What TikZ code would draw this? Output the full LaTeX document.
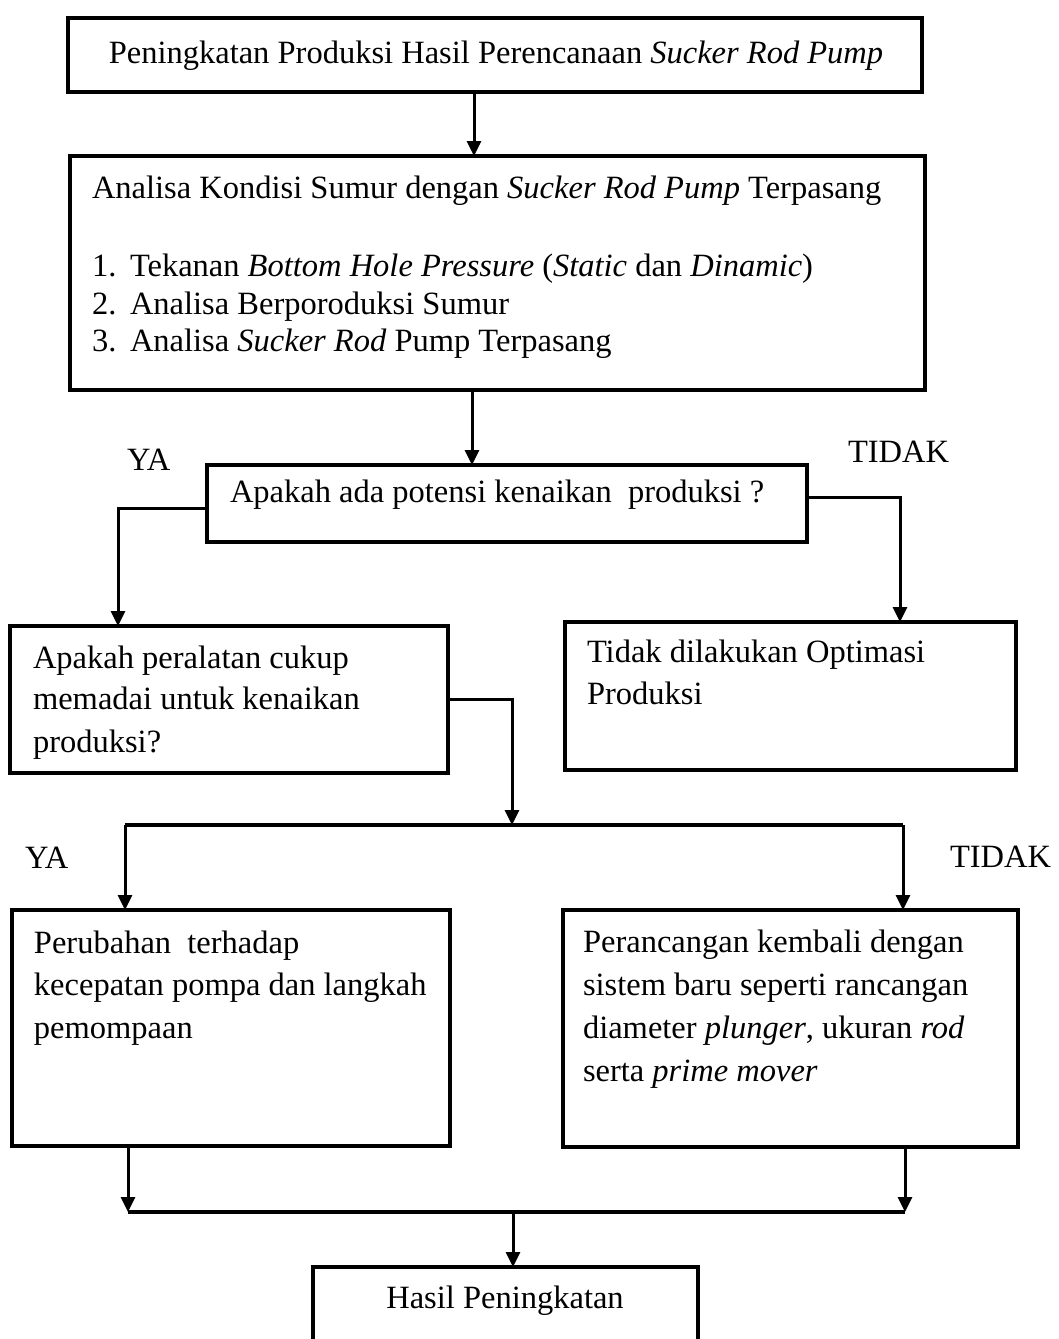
\documentclass[tikz,border=0pt]{standalone}
\usepackage{fontspec}
\setmainfont{Liberation Serif}
\usetikzlibrary{arrows.meta}
\begin{document}
\begin{tikzpicture}[x=1pt,y=-1pt,
  box/.style={draw, line width=3.2pt, inner sep=0pt, outer sep=0pt, fill=none},
  txt/.style={inner sep=0pt, outer sep=0pt, anchor=base west, font=\fontsize{32.5}{40}\selectfont},
  arr/.style={draw, line width=3pt, -{Triangle[length=15pt,width=14pt]}},
  bar/.style={draw, line width=4pt, line cap=butt}]
\useasboundingbox (0,0) rectangle (1058,1339);
\clip (0,0) rectangle (1058,1339);
% boxes
\node[box, minimum width=854pt, minimum height=74pt] (b1) at (495,55) {};
\node[box, minimum width=855pt, minimum height=234pt] (b2) at (497.5,273) {};
\node[box, minimum width=600pt, minimum height=77pt] (b3) at (507,503.5) {};
\node[box, minimum width=438pt, minimum height=147pt] (b4) at (229,699.5) {};
\node[box, minimum width=451pt, minimum height=148pt] (b5) at (790.5,696) {};
\node[box, minimum width=438pt, minimum height=236pt] (b6) at (231,1028) {};
\node[box, minimum width=455pt, minimum height=237pt] (b7) at (790.5,1028.5) {};
\node[box, minimum width=385pt, minimum height=93pt] (b8) at (505.5,1313.5) {};
% texts
\node[txt, anchor=base] (t1) at (496,63) {Peningkatan Produksi Hasil Perencanaan \textit{Sucker Rod Pump}};
\node[txt] (t2) at (92,198) {Analisa Kondisi Sumur dengan \textit{Sucker Rod Pump} Terpasang};
\node[txt] (n1) at (92,276) {1.};
\node[txt] (l1) at (130,276) {Tekanan \textit{Bottom Hole Pressure} (\textit{Static} dan \textit{Dinamic})};
\node[txt] (n2) at (92,314) {2.};
\node[txt] (l2) at (130,314) {Analisa Berporoduksi Sumur};
\node[txt] (n3) at (92,351) {3.};
\node[txt] (l3) at (130,351) {Analisa \textit{Sucker Rod} Pump Terpasang};
\node[txt] (t3) at (230,502) {Apakah ada potensi kenaikan\ \ produksi ?};
\node[txt] (ya1) at (127,470) {YA};
\node[txt] (td1) at (848,462) {TIDAK};
\node[txt] (t4a) at (33,668) {Apakah peralatan cukup};
\node[txt] (t4b) at (33,709) {memadai untuk kenaikan};
\node[txt] (t4c) at (33,752) {produksi?};
\node[txt] (t5a) at (587,662) {Tidak dilakukan Optimasi};
\node[txt] (t5b) at (587,704) {Produksi};
\node[txt] (ya2) at (25,868) {YA};
\node[txt] (td2) at (950,867) {TIDAK};
\node[txt] (t6a) at (34,953) {Perubahan\ \ terhadap};
\node[txt] (t6b) at (34,995) {kecepatan pompa dan langkah};
\node[txt] (t6c) at (34,1038) {pemompaan};
\node[txt] (t7a) at (583,952) {Perancangan kembali dengan};
\node[txt] (t7b) at (583,995) {sistem baru seperti rancangan};
\node[txt] (t7c) at (583,1038) {diameter \textit{plunger}, ukuran \textit{rod}};
\node[txt] (t7d) at (583,1081) {serta \textit{prime mover}};
\node[txt, anchor=base] (t8) at (505,1308) {Hasil Peningkatan};
% connectors
\coordinate (x1) at (474,0);
\coordinate (x2) at (472,0);
\coordinate (x3) at (118,0);
\coordinate (x4) at (900,0);
\coordinate (x5) at (512,0);
\coordinate (x6) at (513,0);
\coordinate (yl) at (0,508);
\coordinate (yr) at (0,497);
\coordinate (bl) at (125,825);
\coordinate (br) at (903,825);
\coordinate (cl) at (128,1212);
\coordinate (cr) at (905,1212);
\draw[arr] (b1.south -| x1) -- (b2.north -| x1);
\draw[arr] (b2.south -| x2) -- (b3.north -| x2);
\draw[arr] (b3.west |- yl) -| (x3 |- b4.north);
\draw[arr] (b3.east |- yr) -| (x4 |- b5.north);
\draw[arr] (b4.east) -| (x5 |- bl);
\draw[bar] (bl) -- (br);
\draw[arr] (bl) -- (bl |- b6.north);
\draw[arr] (br) -- (br |- b7.north);
\draw[arr] (b6.south -| cl) -- (cl);
\draw[arr] (b7.south -| cr) -- (cr);
\draw[bar] (cl) -- (cr);
\draw[arr] (x6 |- cl) -- (x6 |- b8.north);
\end{tikzpicture}
\end{document}
